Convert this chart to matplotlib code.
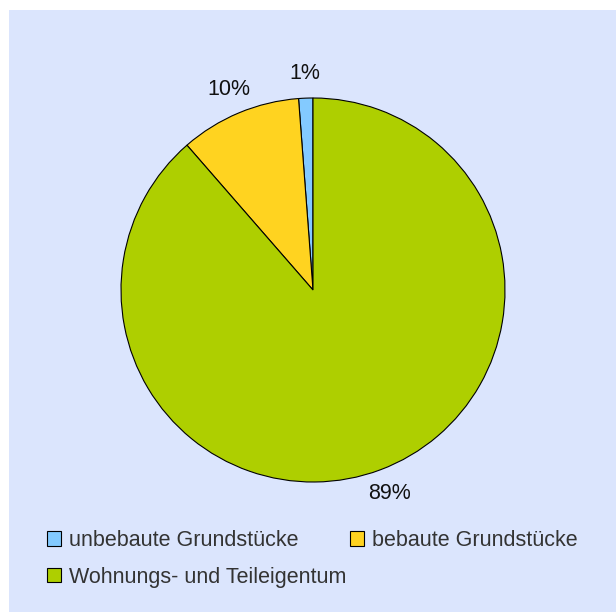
import matplotlib
matplotlib.use("Agg")
import matplotlib.pyplot as plt
from matplotlib.patches import Patch, Rectangle

categories = ["unbebaute Grundstücke", "bebaute Grundstücke", "Wohnungs- und Teileigentum"]
shares = [1.2, 10.2, 88.6]
colors = ["#83caff", "#ffd320", "#aecf00"]

plt.rcParams["font.family"] = ["Liberation Sans", "DejaVu Sans"]

W, H = 616, 612
fig = plt.figure(figsize=(W / 100, H / 100), dpi=100, facecolor="white")

# light blue chart area, leaving a thin white strip on top and left
fig.patches.append(Rectangle((9 / W, 0), 1 - 9 / W, 1 - 10 / H,
                             transform=fig.transFigure, facecolor="#dbe5fd",
                             edgecolor="none", zorder=-1))

cx, cy, r = 313, 290, 192
ax = fig.add_axes([(cx - r) / W, (H - cy - r) / H, 2 * r / W, 2 * r / H])
ax.set_axis_off()

wedges, texts, autotexts = ax.pie(
    shares,
    colors=colors,
    startangle=90,
    counterclock=True,
    autopct="%.0f%%",
    pctdistance=1.13,
    wedgeprops={"edgecolor": "black", "linewidth": 0.8},
    textprops={"fontsize": 15.5, "color": "#111111"},
)
ax.set_xlim(-1, 1)
ax.set_ylim(-1, 1)
ax.set_aspect("equal")

# legend fills column by column, so reorder to read row by row
order = [0, 2, 1]
handles = [Patch(facecolor=colors[i], edgecolor="black", linewidth=0.8) for i in order]
labels = [categories[i] for i in order]
fig.legend(
    handles, labels,
    loc="upper left",
    bbox_to_anchor=(47 / W, 1 - 530 / H),
    ncol=2,
    frameon=False,
    fontsize=15.5,
    labelcolor="#333333",
    handlelength=0.65,
    handleheight=0.65,
    handletextpad=0.35,
    columnspacing=0.2,
    labelspacing=0.72,
    borderpad=0,
    borderaxespad=0,
)

fig.savefig("out.png", dpi=100, facecolor="white")
plt.close(fig)
